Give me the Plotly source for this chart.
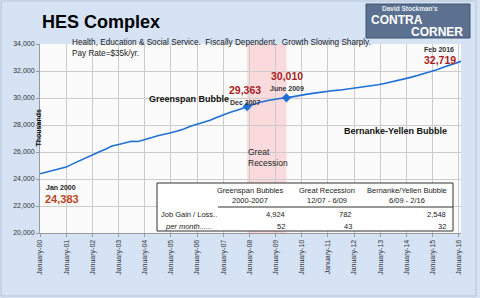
import plotly.graph_objects as go

# ---------------- data ----------------
dates = ["2000-01","2000-04","2000-07","2000-10","2001-01","2001-04","2001-07","2001-10",
         "2002-01","2002-04","2002-07","2002-10","2003-01","2003-04","2003-07","2003-10",
         "2004-01","2004-04","2004-07","2004-10","2005-01","2005-04","2005-07","2005-10",
         "2006-01","2006-04","2006-07","2006-10","2007-01","2007-04","2007-07","2007-10",
         "2007-12","2008-03","2008-06","2008-09","2008-12","2009-03","2009-06","2009-09",
         "2009-12","2010-03","2010-06","2010-09","2010-12","2011-03","2011-06","2011-09",
         "2011-12","2012-03","2012-06","2012-09","2012-12","2013-03","2013-06","2013-09",
         "2013-12","2014-03","2014-06","2014-09","2014-12","2015-03","2015-06","2015-09",
         "2015-12","2016-02"]
values = [24383,24500,24600,24720,24880,25120,25350,25570,
          25800,26000,26200,26450,26560,26680,26800,26780,
          26950,27060,27200,27290,27430,27560,27700,27900,
          28050,28200,28360,28560,28760,28920,29080,29260,
          29363,29530,29680,29800,29890,29960,30010,30110,
          30190,30270,30340,30420,30480,30540,30580,30640,
          30700,30760,30810,30880,30980,31080,31180,31310,
          31400,31530,31660,31790,31940,32100,32280,32430,
          32630,32719]

marker_dates = ["2007-12", "2009-06"]
marker_values = [29363, 30010]

tick_years = list(range(2000, 2017))
tick_vals = [f"{y}-01-01" for y in tick_years]
tick_text = [f"January-{y % 100:02d}" for y in tick_years]

table_cols = ["Greenspan Bubbles", "Great Recession", "Bernanke/Yellen Bubble"]
table_periods = ["2000-2007", "12/07 - 6/09", "6/09 - 2/16"]
table_gain = ["4,924", "782", "2,548"]
table_month = ["52", "43", "32"]

# ---------------- layout helpers ----------------
W, H = 480, 298
L, R, T, B = 40, 19, 44, 65
PW, PH = W - L - R, H - T - B

def px(x):
    return (x - L) / PW

def py(y):
    return (H - B - y) / PH

fig = go.Figure()
fig.add_trace(go.Scatter(x=dates, y=values, mode="lines",
                         line=dict(color="#1f6fd6", width=1.6), hoverinfo="skip"))
fig.add_trace(go.Scatter(x=marker_dates, y=marker_values, mode="markers",
                         marker=dict(symbol="diamond", size=7, color="#1f6fd6"),
                         hoverinfo="skip"))

shapes = []
# recession shading
shapes.append(dict(type="rect", xref="x", yref="paper", x0="2007-12-01", x1="2009-06-01",
                   y0=0, y1=1, fillcolor="#fbdadd", line=dict(width=0), layer="below"))
# outer frame
shapes.append(dict(type="rect", xref="paper", yref="paper", x0=px(1), x1=px(476),
                   y0=py(296), y1=py(1), fillcolor="rgba(0,0,0,0)",
                   line=dict(color="#b8c4d2", width=1), layer="above"))
# logo box
shapes.append(dict(type="rect", xref="paper", yref="paper", x0=px(366), x1=px(470),
                   y0=py(38), y1=py(4), fillcolor="#5c7190",
                   line=dict(color="#3f5370", width=1), layer="above"))
# table
shapes.append(dict(type="rect", xref="paper", yref="paper", x0=px(157), x1=px(453),
                   y0=py(231), y1=py(183), fillcolor="#ffffff",
                   line=dict(color="#333333", width=1), layer="above"))
shapes.append(dict(type="line", xref="paper", yref="paper", x0=px(218), x1=px(453),
                   y0=py(207), y1=py(207), line=dict(color="#333333", width=1), layer="above"))

ann = []
def A(text, x, y, size=7, color="#222222", bold=False, italic=False, xanchor="left",
      angle=0, family="Arial"):
    t = text
    if bold:
        t = f"<b>{t}</b>"
    if italic:
        t = f"<i>{t}</i>"
    ann.append(dict(text=t, x=px(x), y=py(y), xref="paper", yref="paper",
                    xanchor=xanchor, yanchor="middle", showarrow=False,
                    textangle=angle, font=dict(size=size, color=color, family=family)))

A("HES Complex", 40, 22, size=18, color="#000000", bold=True)
A("Health, Education &amp; Social Service.  Fiscally Dependent.  Growth Slowing Sharply.",
  70, 42.5, size=8.2, color="#222222")
A("Pay Rate=$35k/yr.", 70, 53.5, size=8.2, color="#222222")
A("Thousands", 37.5, 128, size=7, color="#000000", bold=True, xanchor="center", angle=-90)

A("Jan 2000", 44, 187, size=7, color="#222222", bold=True)
A("24,383", 43, 199, size=11, color="#b8461a", bold=True)
A("Greenspan Bubble", 147, 99, size=9, color="#111111", bold=True)
A("29,363", 227, 90, size=10.5, color="#a81c1c", bold=True)
A("Dec 2007", 228, 102, size=7, color="#333333", bold=True)
A("30,010", 269, 76, size=10.5, color="#a81c1c", bold=True)
A("June 2009", 268, 88, size=7, color="#333333", bold=True)
A("Feb 2016", 422, 49, size=7, color="#333333", bold=True)
A("32,719", 422, 60, size=10.5, color="#a81c1c", bold=True)
A("Bernanke-Yellen Bubble", 342, 131, size=9, color="#111111", bold=True)
A("Great", 246, 152, size=8.5, color="#222222")
A("Recession", 246, 163, size=8.5, color="#222222")

# logo text
A("David Stockman's", 410, 8.5, size=6.5, color="#e8edf5", bold=True, xanchor="center")
A("CONTRA", 397, 20, size=12, color="#ffffff", bold=True, xanchor="center")
A("CORNER", 437, 32, size=12, color="#ffffff", bold=True, xanchor="center")

# table text
col_c = [250, 327, 407]
col_r = [287, 354, 448]
for i in range(3):
    A(table_cols[i], col_c[i], 190, size=7.5, color="#222222", xanchor="center")
    A(table_periods[i], col_c[i], 200, size=7.5, color="#222222", xanchor="center")
    A(table_gain[i], col_r[i], 214, size=7.5, color="#222222", xanchor="right")
    A(table_month[i], col_r[i], 226, size=7.5, color="#222222", xanchor="right")
A("Job Gain / Loss..", 159, 214, size=7.5, color="#222222")
A("per month......", 163, 226, size=7.5, color="#222222", italic=True)

fig.update_layout(
    width=W, height=H,
    margin=dict(l=L, r=R, t=T, b=B, pad=0),
    paper_bgcolor="#d5e3f5",
    plot_bgcolor="#fbfbfb",
    showlegend=False,
    shapes=shapes,
    annotations=ann,
    font=dict(family="Arial", size=7, color="#333333"),
)
fig.update_xaxes(
    type="date", range=["2000-01-01", "2016-02-01"],
    tickvals=tick_vals, ticktext=tick_text, tickangle=-90,
    tickfont=dict(size=7, color="#333333", family="Arial"),
    showgrid=True, gridcolor="#cccccc", gridwidth=1,
    ticks="outside", ticklen=3, tickcolor="#999999",
    showline=True, linecolor="#999999", mirror=False, zeroline=False,
)
fig.update_yaxes(
    range=[20000, 34000], dtick=2000, tickformat=",d",
    tickfont=dict(size=7, color="#333333", family="Arial"),
    showgrid=True, gridcolor="#cccccc", gridwidth=1,
    ticks="outside", ticklen=3, tickcolor="#999999",
    showline=True, linecolor="#999999", zeroline=False,
)

fig.write_html("out.html")
